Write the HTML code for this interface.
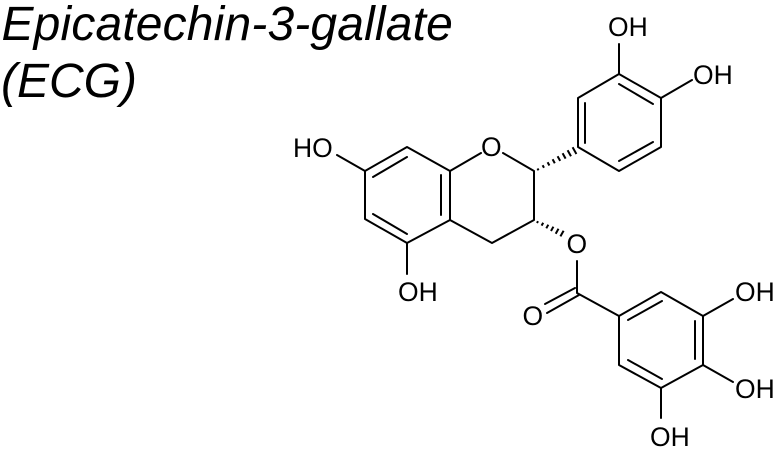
<!DOCTYPE html>
<html>
<head>
<meta charset="utf-8">
<style>
html,body{margin:0;padding:0;background:#fff;width:781px;height:454px;overflow:hidden}
svg{display:block}
text{font-family:"Liberation Sans",Arial,sans-serif;fill:#000}
.l{font-size:26.5px}
.t{font-size:48px;font-style:italic}
</style>
</head>
<body>
<svg width="781" height="454" viewBox="0 0 781 454" xmlns="http://www.w3.org/2000/svg">
<rect width="781" height="454" fill="#fff"/>
<text class="t" x="1.5" y="40" letter-spacing="0.15">Epicatechin-3-gallate</text>
<text class="t" x="1" y="97">(ECG)</text>
<g stroke="#000" stroke-width="2" fill="none" stroke-linecap="round" stroke-linejoin="round">
<!-- Ring A -->
<path d="M365 171L407 147L450 171L450 220L407 243L365 219Z"/>
<path d="M373 177L407 157M441 175L441 215M373 214L407 234"/>
<!-- Ring C -->
<path d="M450 171L481 153M503 153L534 171L534 220L492 243L450 220"/>
<!-- substituents -->
<path d="M337 155L365 171M407 243L407 274"/>
<!-- Ring B -->
<path d="M578 147L578 98L619 74L661 98L661 147L619 171Z"/>
<path d="M585 103L585 143M619 84L653 104M619 161L653 142"/>
<path d="M619 74L619 44M661 98L692 80"/>
<!-- Ester -->
<path d="M577 261L577 293L619 316"/>
<path d="M575 288L545 304M579 295L547 313"/>
<!-- Gallate ring -->
<path d="M619 316L661 292L703 316L703 365L661 388L619 365Z"/>
<path d="M628 320L662 301M695 321L695 359M628 360L662 379"/>
<path d="M703 316L733 299M703 365L733 382M661 388L661 418"/>
</g>
<!-- Hashed bond C2 to ring B -->
<g stroke="#000" stroke-width="2" fill="none">
<path d="M537.5 168.5L538.5 170.3"/>
<path d="M542.6 165.3L544 167.8"/>
<path d="M547.6 162.3L549.4 165.5"/>
<path d="M552.6 159.3L554.8 163.2"/>
<path d="M557.6 156.3L560.2 160.9"/>
<path d="M562.6 153.3L565.6 158.6"/>
<path d="M567.6 150.3L571 156.3"/>
<path d="M572.6 147.3L576.4 154"/>
</g>
<!-- Hashed bond C3 to ester O -->
<g stroke="#000" stroke-width="2" fill="none">
<path d="M538 221.2L537 223"/>
<path d="M543.2 222.8L541.6 225.6"/>
<path d="M548.3 224.7L546.3 228.3"/>
<path d="M553.4 226.7L551 231"/>
<path d="M558.5 228.7L555.7 233.7"/>
<path d="M563.6 230.7L560.4 236.4"/>
</g>
<text class="l" x="293" y="157">HO</text>
<text class="l" x="398" y="301">OH</text>
<text class="l" x="481" y="156">O</text>
<text class="l" x="608" y="36">OH</text>
<text class="l" x="693" y="84">OH</text>
<text class="l" x="566.5" y="253">O</text>
<text class="l" x="522.5" y="325">O</text>
<text class="l" x="735" y="301">OH</text>
<text class="l" x="735" y="398">OH</text>
<text class="l" x="650" y="446">OH</text>
</svg>
</body>
</html>
